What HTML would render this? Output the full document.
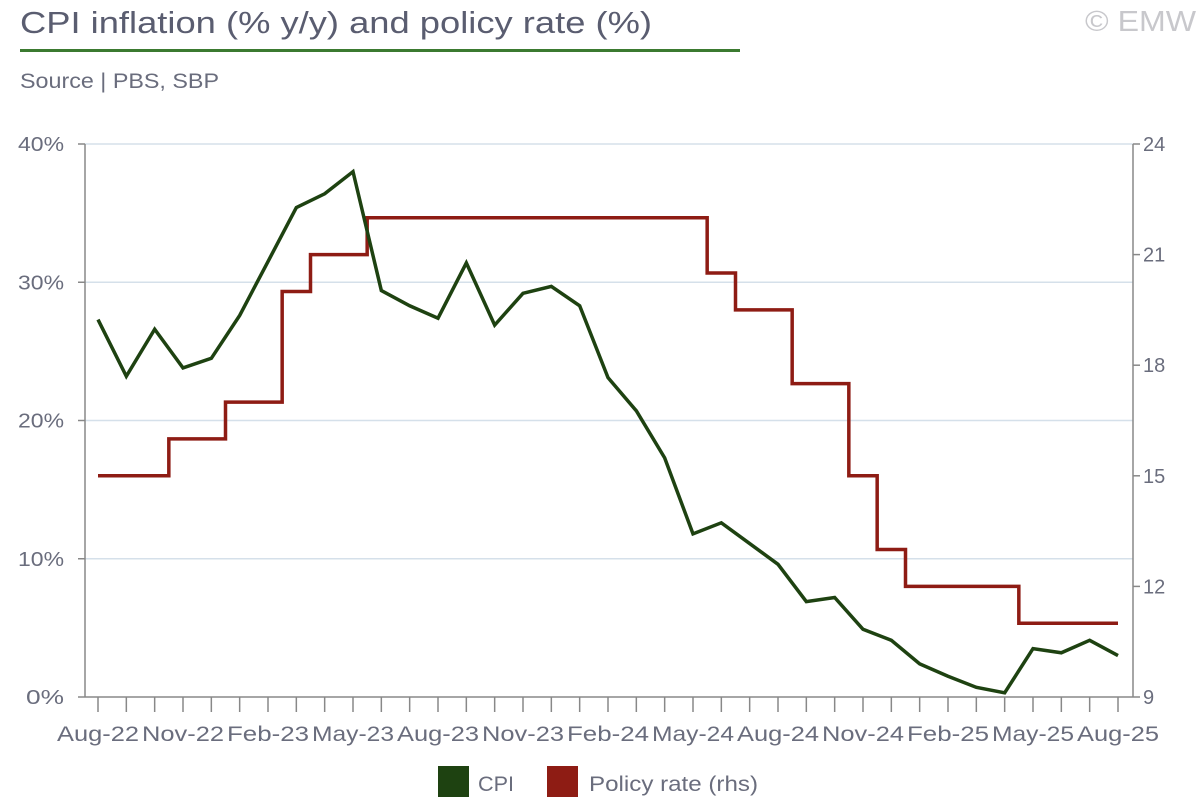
<!DOCTYPE html>
<html><head><meta charset="utf-8"><style>
body{margin:0;background:#fff;width:1200px;height:800px;overflow:hidden;font-family:"Liberation Sans",sans-serif}
</style></head><body>
<svg id="s" width="1200" height="800" xmlns="http://www.w3.org/2000/svg" font-family="Liberation Sans, sans-serif">
<text x="20" y="33" font-size="31" fill="#5a5d70" textLength="632" lengthAdjust="spacingAndGlyphs">CPI inflation (% y/y) and policy rate (%)</text>
<rect x="20" y="49" width="720" height="3" fill="#3b7a30"/>
<text x="1085" y="31" font-size="29" fill="#c8c8cc" textLength="111" lengthAdjust="spacingAndGlyphs">© EMW</text>
<text x="20" y="88" font-size="21" fill="#6a6d7d" textLength="199" lengthAdjust="spacingAndGlyphs">Source | PBS, SBP</text>
</svg>
<script>
const s=document.getElementById('s');let h='';
const L=85,R=1133,T=144,B=697;
const X=i=>98+i*(1020/36);
const yl=v=>B-v*(B-T)/40, yr=v=>B-(v-9)*(B-T)/15;
for(let v=10;v<=40;v+=10){h+=`<line x1="${L}" x2="${R}" y1="${yl(v)}" y2="${yl(v)}" stroke="#d5e0ea" stroke-width="1.5"/>`;}
h+=`<line x1="${L}" x2="${L}" y1="${T}" y2="${B}" stroke="#888" stroke-width="1.5"/><line x1="${R}" x2="${R}" y1="${T}" y2="${B}" stroke="#888" stroke-width="1.5"/><line x1="${L}" x2="${R}" y1="${B}" y2="${B}" stroke="#888" stroke-width="1.5"/>`;
for(let v=0;v<=40;v+=10){const w=v==0?38:46;h+=`<line x1="${L-7}" x2="${L}" y1="${yl(v)}" y2="${yl(v)}" stroke="#888" stroke-width="1.5"/><text x="${64-w}" y="${yl(v)+7}" font-size="20" fill="#6a6d7d" textLength="${w}" lengthAdjust="spacingAndGlyphs">${v}%</text>`;}
for(let v=9;v<=24;v+=3){h+=`<line x1="${R}" x2="${R+7}" y1="${yr(v)}" y2="${yr(v)}" stroke="#888" stroke-width="1.5"/><text x="1143" y="${yr(v)+7}" font-size="20" fill="#6a6d7d">${v}</text>`;}
const lab=['Aug-22','Nov-22','Feb-23','May-23','Aug-23','Nov-23','Feb-24','May-24','Aug-24','Nov-24','Feb-25','May-25','Aug-25'];
for(let i=0;i<=36;i++){h+=`<line x1="${X(i)}" x2="${X(i)}" y1="${B}" y2="${B+15}" stroke="#888" stroke-width="1.5"/>`;if(i%3==0)h+=`<text x="${X(i)-41}" y="741" font-size="21" fill="#6a6d7d" textLength="82" lengthAdjust="spacingAndGlyphs">${lab[i/3]}</text>`;}
const pol=[15,15,15,16,16,17,17,20,21,21,22,22,22,22,22,22,22,22,22,22,22,22,20.5,19.5,19.5,17.5,17.5,15,13,12,12,12,12,11,11,11,11];
let p=`M${X(0)},${yr(pol[0])}`;
for(let i=1;i<=36;i++){if(pol[i]!=pol[i-1]){const xm=X(i-0.5);p+=` L${xm},${yr(pol[i-1])} L${xm},${yr(pol[i])}`;}}
p+=` L${X(36)},${yr(pol[36])}`;
h+=`<path d="${p}" fill="none" stroke="#8e1c14" stroke-width="3.5"/>`;
const cpi=[27.3,23.2,26.6,23.8,24.5,27.6,31.5,35.4,36.4,38.0,29.4,28.3,27.4,31.4,26.9,29.2,29.7,28.3,23.1,20.7,17.3,11.8,12.6,11.1,9.6,6.9,7.2,4.9,4.1,2.4,1.5,0.7,0.3,3.5,3.2,4.1,3.0];
h+=`<polyline points="${cpi.map((v,i)=>X(i)+','+yl(v)).join(' ')}" fill="none" stroke="#1e4211" stroke-width="3.5"/>`;
h+=`<rect x="438" y="766" width="31" height="31" fill="#1e4211"/><text x="478" y="791" font-size="21" fill="#6a6d7d" textLength="36" lengthAdjust="spacingAndGlyphs">CPI</text>`;
h+=`<rect x="547" y="766" width="31" height="31" fill="#8e1c14"/><text x="589" y="791" font-size="21" fill="#6a6d7d" textLength="169" lengthAdjust="spacingAndGlyphs">Policy rate (rhs)</text>`;
s.insertAdjacentHTML('beforeend',h);
</script>
</body></html>
